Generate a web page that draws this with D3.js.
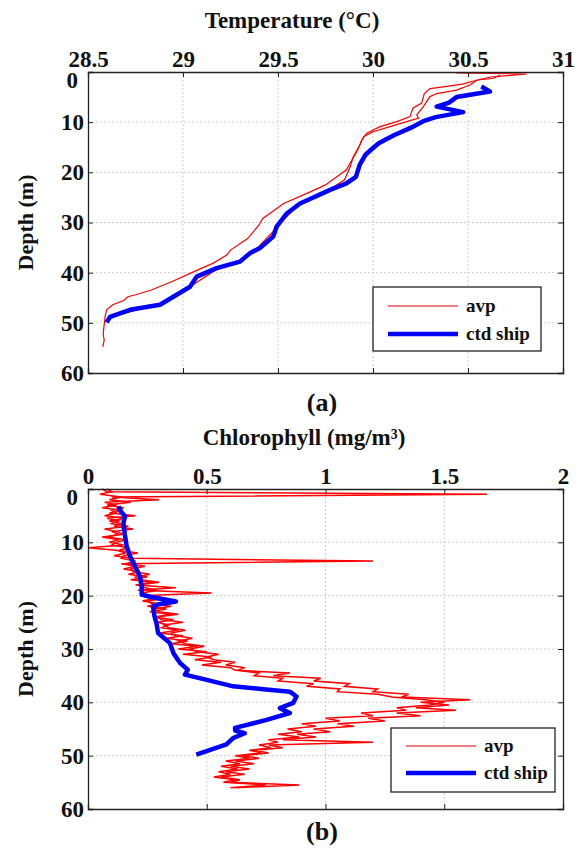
<!DOCTYPE html>
<html>
<head>
<meta charset="utf-8">
<script src="https://cdn.jsdelivr.net/npm/d3@7"></script>
<style>
  body { margin: 0; background: #fff; }
  svg text { font-family: "Liberation Serif", "Times New Roman", serif; font-weight: bold; fill: #111; }
</style>
</head>
<body>
<div id="chart"></div>
<script>
// ---------- data ----------
const depthTicks = [0, 10, 20, 30, 40, 50, 60];
const tempTicks = [28.5, 29, 29.5, 30, 30.5, 31];
const chlTicks = [0, 0.5, 1, 1.5, 2];
const seriesNames = ['avp', 'ctd ship'];

// temperature profiles, [depth (m), temperature (°C)]
const tempAvpCast1 = [
  [0.2,30.44],[0.4,30.81],[1.0,30.62],[1.6,30.55],[2.4,30.47],[2.9,30.38],[3.3,30.30],[4.3,30.27],
  [6.2,30.256],[7.2,30.21],[8.9,30.195],[9.9,30.125],[10.9,30.037],[12.2,29.967],[13.6,29.94],
  [15.5,29.92],[17.5,29.89],[19.5,29.86],[22.5,29.75],[23.9,29.67],[26.2,29.53],[29.2,29.42],
  [30.5,29.40],[33.2,29.34],[35.5,29.25],[36.5,29.23],[38.1,29.16],[40.1,29.04],[41.8,28.94],
  [43.5,28.83],[44.4,28.75],[44.8,28.71],[45.5,28.69],[46.4,28.63],[47.4,28.598],[48.8,28.59],
  [52.1,28.58],[53.5,28.585],[54.8,28.578]
];
const tempAvpCast2 = [
  [0.6,30.67],[1.3,30.63],[1.6,30.55],[2.6,30.51],[3.6,30.44],[4.3,30.335],[4.9,30.30],[6.9,30.265],
  [8.6,30.23],[9.2,30.24],[9.9,30.177],[10.9,30.09],[11.9,30.0],[12.9,29.95],[14.6,29.93],
  [16.9,29.896],[18.9,29.88],[21.5,29.85],[24.2,29.738],[26.2,29.616],[30.2,29.51],[31.8,29.475],
  [34.5,29.405],[36.1,29.37],[37.5,29.30],[39.5,29.17],[42.8,29.037],[46.1,28.879],[47.8,28.72],
  [48.8,28.616],[49.4,28.60]
];
const tempCtd = [
  [2.9,30.57],[3.9,30.615],[5.0,30.44],[6.1,30.40],[6.9,30.335],[8.0,30.475],[9.0,30.33],[9.8,30.265],
  [11.2,30.195],[12.6,30.11],[14.2,30.03],[15.5,29.99],[16.5,29.96],[18.5,29.93],[20.9,29.91],
  [22.2,29.86],[23.5,29.774],[26.2,29.616],[28.2,29.546],[30.8,29.493],[32.8,29.475],[35.1,29.405],
  [36.1,29.353],[37.8,29.30],[39.1,29.177],[40.8,29.072],[42.8,29.037],[46.4,28.879],[47.4,28.721],
  [48.8,28.616],[49.9,28.598]
];

// chlorophyll avp casts on a 0.5 m depth grid
const chlAvpDepth = [
  0,0.5,1,1.5,2,2.5,3,3.5,4,4.5, 5,5.5,6,6.5,7,7.5,8,8.5,9,9.5,
  10,10.5,11,11.5,12,12.5,13,13.5,14,14.5, 15,15.5,16,16.5,17,17.5,18,18.5,19,19.5,
  20,20.5,21,21.5,22,22.5,23,23.5,24,24.5, 25,25.5,26,26.5,27,27.5,28,28.5,29,29.5,
  30,30.5,31,31.5,32,32.5,33,33.5,34,34.5, 35,35.5,36,36.5,37,37.5,38,38.5,39,39.5,
  40,40.5,41,41.5,42,42.5,43,43.5,44,44.5, 45,45.5,46,46.5,47,47.5,48,48.5,49,49.5,
  50,50.5,51,51.5,52,52.5,53,53.5,54,54.5, 55,55.5,56
];
const chlAvpCast1 = [
  0.06,0.08,1.68,0.10,0.30,0.07,0.12,0.06,0.14,0.09, 0.20,0.08,0.13,0.10,0.17,0.07,0.12,0.15,0.06,0.13,
  0.09,0.15,0.00,0.12,0.16,0.11,0.19,1.20,0.14,0.20, 0.15,0.22,0.17,0.25,0.18,0.27,0.20,0.37,0.21,0.52,
  0.22,0.28,0.23,0.30,0.25,0.33,0.26,0.35,0.28,0.36, 0.29,0.34,0.31,0.38,0.30,0.40,0.33,0.42,0.35,0.46,
  0.38,0.50,0.40,0.52,0.45,0.56,0.48,0.60,0.62,0.85, 0.78,0.98,0.95,1.10,1.08,1.22,1.20,1.35,1.32,1.61,
  1.40,1.52,1.38,1.55,1.30,1.40,1.18,1.25,1.05,1.12, 0.95,1.02,0.88,0.96,0.82,1.20,0.76,0.82,0.70,0.76,
  0.65,0.72,0.62,0.70,0.60,0.68,0.58,0.66,0.56,0.64, 0.60,0.89,0.62
];
const chlAvpCast2 = [
  0.08,0.10,0.05,0.14,0.09,0.18,0.08,0.15,0.10,0.12, 0.07,0.16,0.09,0.14,0.11,0.19,0.10,0.13,0.08,0.16,
  0.12,0.10,0.17,0.13,0.21,0.15,0.14,0.20,0.16,0.24, 0.18,0.19,0.26,0.20,0.22,0.30,0.21,0.24,0.29,0.23,
  0.26,0.33,0.25,0.27,0.35,0.28,0.30,0.38,0.29,0.31, 0.40,0.32,0.34,0.41,0.35,0.37,0.44,0.38,0.41,0.49,
  0.43,0.46,0.55,0.50,0.53,0.62,0.58,0.66,0.63,0.72, 0.70,0.82,0.80,0.95,0.92,1.06,1.05,1.22,1.28,1.42,
  1.50,1.44,1.30,1.34,1.15,1.20,1.00,1.06,0.90,0.96, 0.84,0.90,0.80,0.89,0.76,0.80,0.72,0.77,0.68,0.73,
  0.62,0.68,0.58,0.64,0.56,0.63,0.55,0.60,0.53,0.62, 0.57,0.75,0.60
];
// chlorophyll ctd, [depth (m), mg/m3]
const chlCtd = [
  [3.3,0.128],[4.3,0.14],[5.1,0.156],[6.4,0.149],[8.5,0.155],[10.8,0.163],[12.6,0.177],[14.5,0.198],
  [16.4,0.219],[18.3,0.226],[19.8,0.226],[20.3,0.27],[21.1,0.37],[21.6,0.30],[22.0,0.274],[23.9,0.28],
  [25.1,0.288],[27.0,0.295],[28.9,0.345],[30.8,0.36],[32.6,0.387],[33.9,0.42],[34.8,0.408],[35.8,0.50],
  [37.0,0.611],[37.6,0.75],[38.0,0.85],[38.9,0.878],[40.1,0.864],[41.1,0.808],[42.0,0.85],[43.3,0.752],
  [44.8,0.619],[45.3,0.62],[45.8,0.66],[46.7,0.611],[47.9,0.583],[49.8,0.456]
];

// ---------- drawing ----------
const width = 582, height = 851;
const svg = d3.select('#chart').append('svg')
    .attr('width', width)
    .attr('height', height);

function drawPanel(cfg) {
    const x = d3.scaleLinear().domain(cfg.xDomain).range([88, 563]);
    const y = d3.scaleLinear().domain([0, 60]).range([cfg.top, cfg.bottom]);
    const g = svg.append('g');

    // grid
    g.append('g').selectAll('line')
        .data(cfg.xTicks.slice(1, -1))
        .join('line')
        .attr('x1', d => x(d)).attr('x2', d => x(d))
        .attr('y1', cfg.top).attr('y2', cfg.bottom)
        .attr('stroke', '#cfcfcf').attr('stroke-dasharray', '2,2');
    g.append('g').selectAll('line')
        .data(depthTicks.slice(1, -1))
        .join('line')
        .attr('x1', 88).attr('x2', 563)
        .attr('y1', d => y(d)).attr('y2', d => y(d))
        .attr('stroke', '#cfcfcf').attr('stroke-dasharray', '2,2');

    const line = d3.line().x(d => x(d[1])).y(d => y(d[0]));

    cfg.avp.forEach(s => {
        g.append('path')
            .datum(s)
            .attr('fill', 'none')
            .attr('stroke', '#ff0000')
            .attr('stroke-width', cfg.redWidth)
            .attr('d', line);
    });
    g.append('path')
        .datum(cfg.ctd)
        .attr('fill', 'none')
        .attr('stroke', '#0000ff')
        .attr('stroke-width', 4.5)
        .attr('stroke-linejoin', 'round')
        .attr('d', line);

    // axes (ticks inward, MATLAB style)
    g.append('g')
        .attr('transform', `translate(0,${cfg.top})`)
        .call(d3.axisTop(x).tickValues(cfg.xTicks).tickSize(-5).tickPadding(5).tickFormat(d3.format('')));
    const leftAxis = g.append('g')
        .attr('transform', 'translate(88,0)')
        .call(d3.axisLeft(y).tickValues(depthTicks).tickSize(-5).tickPadding(4));
    g.append('g')
        .attr('transform', 'translate(563,0)')
        .call(d3.axisRight(y).tickValues(depthTicks).tickSize(-5).tickFormat(''));
    g.append('g')
        .attr('transform', `translate(0,${cfg.bottom})`)
        .call(d3.axisBottom(x).tickValues(cfg.xTicks).tickSize(-5).tickFormat(''));

    g.selectAll('.domain').attr('stroke', '#222').attr('stroke-width', 1.3);
    g.selectAll('.tick line').attr('stroke', '#222');
    g.selectAll('.tick text').style('font-size', '23px').style('font-family', '"Liberation Serif", serif');
    leftAxis.selectAll('.tick text').filter(d => d === 0).attr('x', -10).attr('y', 8);

    // labels
    g.append('text')
        .attr('x', cfg.titleX).attr('y', cfg.top - 44)
        .attr('text-anchor', 'middle')
        .style('font-size', '23px')
        .text(cfg.title);
    g.append('text')
        .attr('transform', `translate(25,${(cfg.top + cfg.bottom) / 2}) rotate(-90)`)
        .attr('text-anchor', 'middle')
        .attr('dy', '0.35em')
        .style('font-size', '22px')
        .text('Depth (m)');
    g.append('text')
        .attr('x', 322).attr('y', cfg.tagY)
        .attr('text-anchor', 'middle')
        .style('font-size', '26px')
        .text(cfg.tag);

    // legend
    const lg = cfg.legend;
    g.append('rect')
        .attr('x', lg.x).attr('y', lg.y)
        .attr('width', lg.w).attr('height', lg.h)
        .attr('fill', '#fff').attr('stroke', '#222').attr('stroke-width', 1.3);
    const rows = [
        {name: seriesNames[0], color: '#e00000', w: 1.2},
        {name: seriesNames[1], color: '#0000ff', w: 4.5}
    ];
    rows.forEach((r, i) => {
        const ly = lg.y + lg.first + i * lg.gap;
        g.append('line')
            .attr('x1', lg.x + 15).attr('x2', lg.x + 85)
            .attr('y1', ly).attr('y2', ly)
            .attr('stroke', r.color).attr('stroke-width', r.w);
        g.append('text')
            .attr('x', lg.x + 93).attr('y', ly + 6)
            .style('font-size', '19px')
            .text(r.name);
    });
}

drawPanel({
    top: 72, bottom: 373,
    xDomain: [28.5, 31], xTicks: tempTicks,
    title: 'Temperature (°C)', titleX: 292, tag: '(a)', tagY: 411,
    avp: [tempAvpCast1, tempAvpCast2], ctd: tempCtd, redWidth: 1.2,
    legend: {x: 373, y: 287, w: 168, h: 64, first: 19, gap: 28}
});

drawPanel({
    top: 489, bottom: 809,
    xDomain: [0, 2], xTicks: chlTicks,
    title: 'Chlorophyll (mg/m³)', titleX: 304, tag: '(b)', tagY: 840,
    avp: [chlAvpDepth.map((d, i) => [d, chlAvpCast1[i]]), chlAvpDepth.map((d, i) => [d, chlAvpCast2[i]])],
    ctd: chlCtd, redWidth: 1.5,
    legend: {x: 391, y: 728, w: 164, h: 64, first: 18, gap: 27}
});
</script>
</body>
</html>
